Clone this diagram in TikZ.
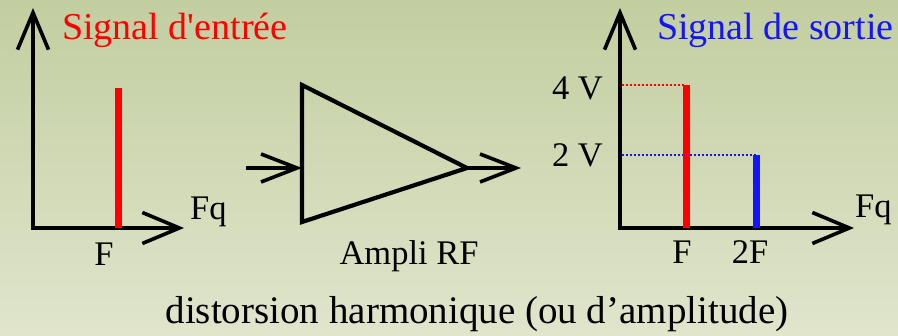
\documentclass[tikz,border=0pt]{standalone}
\usepackage{fontspec}
\setmainfont{Liberation Serif}
\newfontfamily\rawserif{Liberation Serif}[Ligatures=TeXOff]
\usetikzlibrary{arrows.meta}
\definecolor{bgtop}{RGB}{194,206,160}
\definecolor{bgbot}{RGB}{224,229,204}
\definecolor{sigred}{RGB}{255,0,0}
\definecolor{sigblue}{RGB}{20,20,255}
\begin{document}
\begin{tikzpicture}[x=1pt,y=-1pt,
  axis/.style={line width=3.6pt, line join=miter,
    {Straight Barb[length=37pt,width=31pt,line width=3.6pt]}-{Straight Barb[length=37pt,width=31pt,line width=3.6pt]}},
  flow/.style={line width=3.6pt, -{Straight Barb[length=36pt,width=28pt,line width=3.6pt]}},
  ampbody/.style={line width=4.2pt, line join=miter},
  bar/.style={line width=7pt},
  guide/.style={line width=2pt, dotted},
  lbl/.style={inner sep=0pt, font=\fontsize{34.5}{34.5}\selectfont},
  title/.style={inner sep=0pt, font=\fontsize{38}{38}\selectfont}]
\shade[top color=bgtop, bottom color=bgbot] (0,0) rectangle (898,336);
\useasboundingbox (0,0) rectangle (898,336);

% ---- input spectrum ----
\coordinate (inTop) at (33,8);
\coordinate (inO) at (33,228);
\coordinate (inRight) at (184,228);
\draw[axis] (inTop) -- (inO) -- (inRight);
\coordinate (inFtop) at (118,88);
\coordinate (inFbot) at (118,228);
\draw[bar, sigred] (inFbot) -- (inFtop);
\node[title, text=sigred, anchor=base west] (inTitle) at (62,40) {\rawserif Signal d'entrée};
\node[lbl, anchor=base west] (inFq) at (190,220) {Fq};
\node[lbl, anchor=base] (inF) at (104,266) {F};

% ---- amplifier ----
\coordinate (ampTop) at (302,85);
\coordinate (ampBot) at (302,222);
\coordinate (ampTip) at (467,168);
\coordinate (ampIn) at (302,168);
\coordinate (srcIn) at (246,168);
\coordinate (dstOut) at (521,168);
\draw[ampbody] (ampTop) -- (ampTip) -- (ampBot) -- cycle;
\draw[flow] (srcIn) -- (ampIn);
\draw[flow] (ampTip) -- (dstOut);
\node[lbl, anchor=base] (ampLabel) at (409,265) {Ampli RF};

% ---- output spectrum ----
\coordinate (outTop) at (620,8);
\coordinate (outO) at (620,228);
\coordinate (outRight) at (854,228);
\draw[axis] (outTop) -- (outO) -- (outRight);
\coordinate (outFtop) at (686,85);
\coordinate (outFbot) at (686,228);
\coordinate (out2Ftop) at (756,155);
\coordinate (out2Fbot) at (756,228);
\coordinate (lvl4) at (622,85);
\coordinate (lvl2) at (622,155);
\draw[guide, sigred] (lvl4) -- (outFtop);
\draw[guide, sigblue] (lvl2) -- (out2Ftop);
\draw[bar, sigred] (outFbot) -- (outFtop);
\draw[bar, sigblue] (out2Fbot) -- (out2Ftop);
\node[title, text=sigblue, anchor=base west] (outTitle) at (657,40) {Signal de sortie};
\node[lbl, anchor=base east] (v4) at (603,100) {4 V};
\node[lbl, anchor=base east] (v2) at (603,167) {2 V};
\node[lbl, anchor=base west] (outFq) at (855,218) {Fq};
\node[lbl, anchor=base] (outF) at (682,264) {F};
\node[lbl, anchor=base] (out2F) at (750,264) {2F};

% ---- caption ----
\node[inner sep=0pt, anchor=base, font=\fontsize{39}{39}\selectfont] (caption) at (477,324) {distorsion harmonique (ou d’amplitude)};
\end{tikzpicture}
\end{document}
